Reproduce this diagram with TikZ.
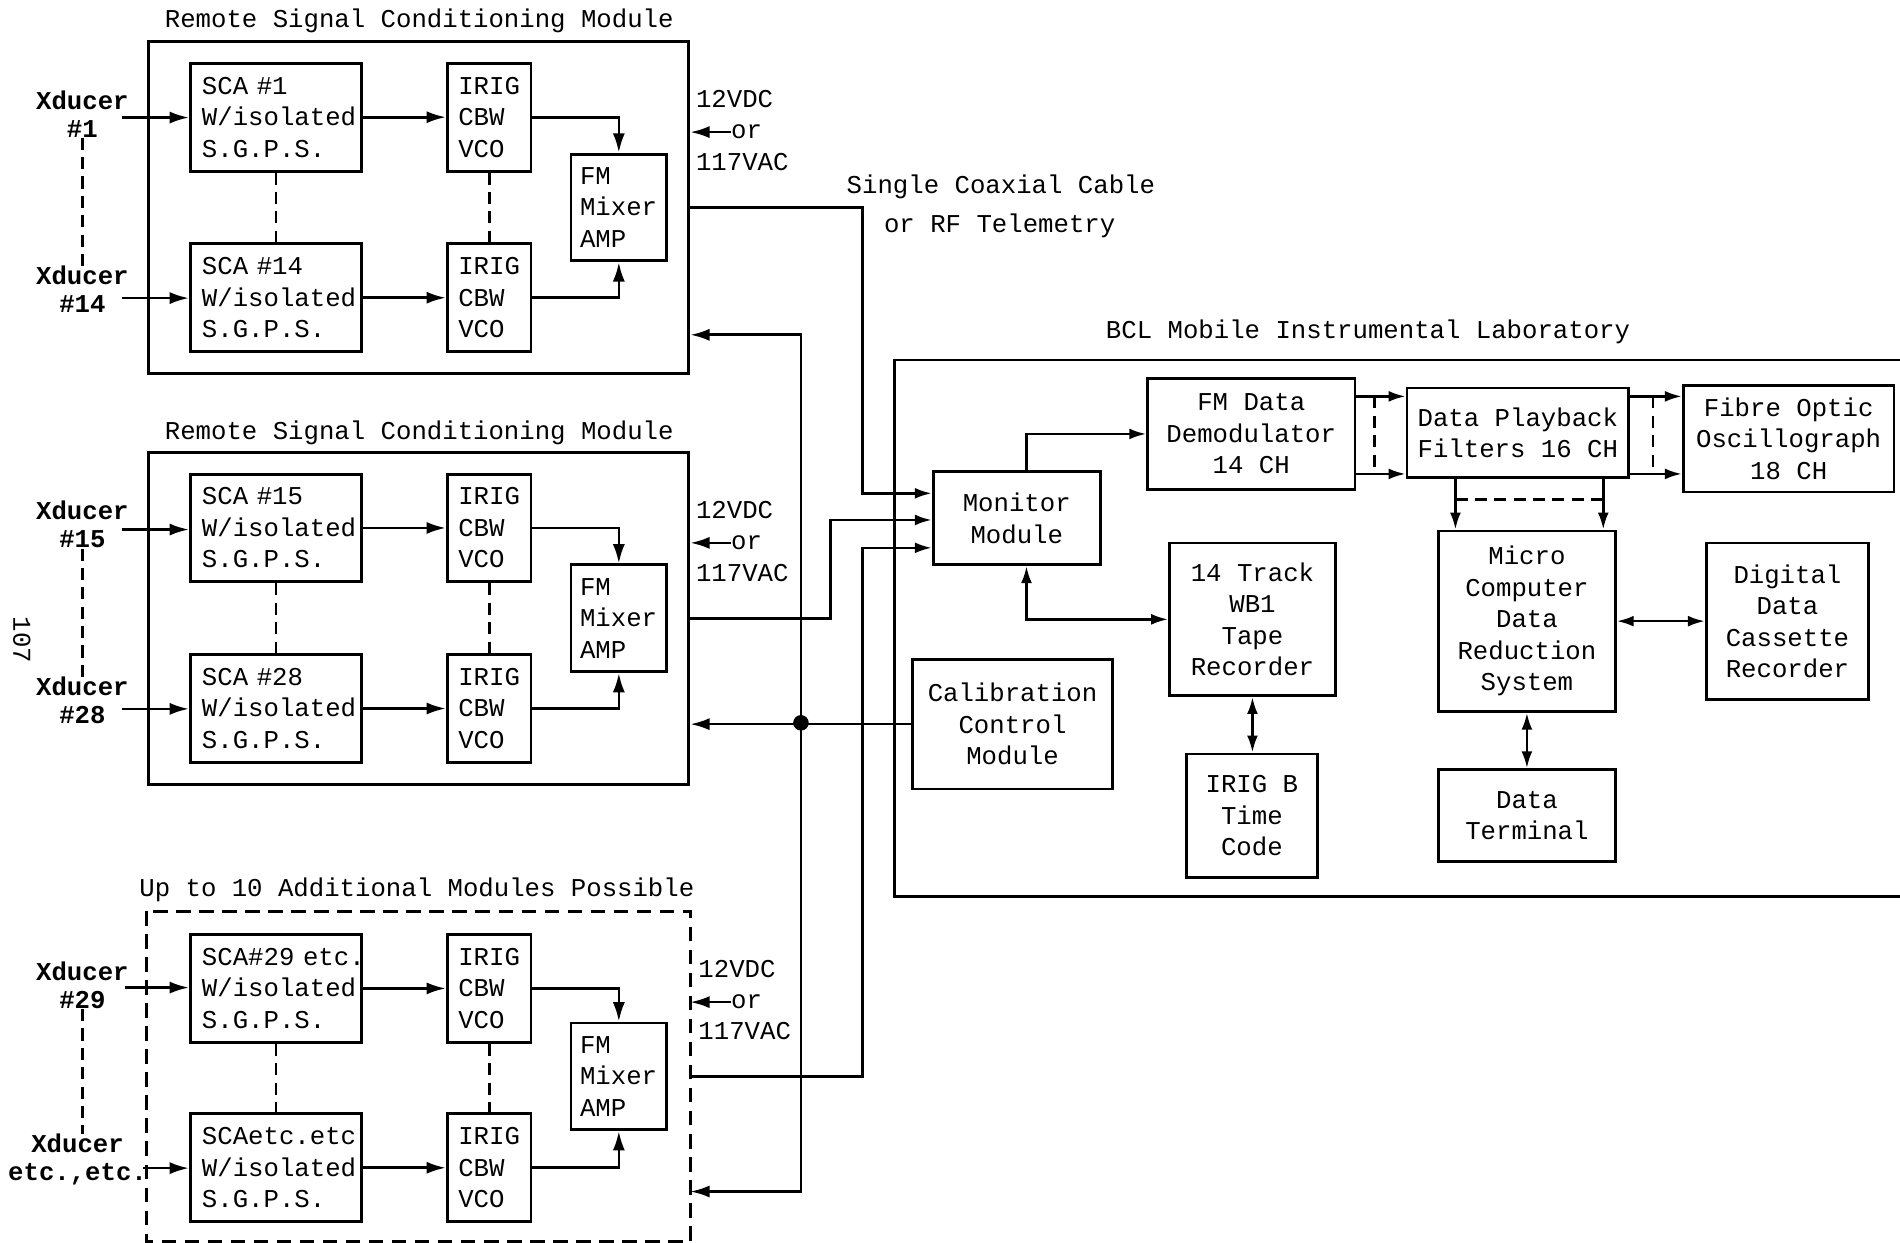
\documentclass[tikz,border=0pt]{standalone}
\usepackage{fontspec}
\setmainfont{Liberation Mono}
\usetikzlibrary{arrows.meta}
\begin{document}
\begin{tikzpicture}[x=0.5pt,y=-0.5pt,
  font=\fontsize{10.6pt}{13pt}\selectfont,
  modbox/.style={draw,line width=1.3pt,anchor=north west,inner sep=0pt,minimum width=223pt,minimum height=137pt},
  blk/.style={draw,line width=1.2pt,anchor=north west,inner ysep=0pt},
  sca/.style={blk,minimum width=70.5pt,minimum height=44.5pt,text width=61pt,inner xsep=4.5pt,align=left},
  irig/.style={blk,minimum width=34.5pt,minimum height=44.5pt,text width=25.5pt,inner xsep=4.5pt,align=left},
  fm/.style={blk,minimum width=39.5pt,minimum height=44pt,text width=32pt,inner xsep=3.5pt,align=left},
  lbox/.style={draw,line width=1.1pt,anchor=north west,inner sep=0pt,align=center},
  ttl/.style={inner sep=0pt},
  pw/.style={inner sep=0pt,anchor=west},
  xlab/.style={inner sep=0pt,align=center,font=\bfseries\fontsize{10.6pt}{11.5pt}\selectfont},
  arr/.style={line width=1.1pt,-{Latex[length=8pt,width=5pt]}},
  marr/.style={line width=1.1pt,-{Latex[length=7pt,width=4.5pt]}},
  darr/.style={line width=1.1pt,{Latex[length=7pt,width=4.5pt]}-{Latex[length=7pt,width=4.5pt]}},
  wire/.style={line width=1.1pt},
  dline/.style={line width=1.1pt,dash pattern=on 5pt off 3pt},
  mdash/.style={line width=1.3pt,dash pattern=on 6pt off 3.5pt},
  jdot/.style={circle,fill,draw,inner sep=0pt,minimum size=6pt}]
\path[fill=white] (0,0) rectangle (1568,1025);
\useasboundingbox (0,0) rectangle (1568,1025);

% ---------------- Module 1
\node[modbox] (m1) at (121,33) {};
\node[ttl] (m1t) at (346,17) {Remote Signal Conditioning Module};
\node[sca] (s1) at (156,51) {SCA \#1\\W/isolated\\S.G.P.S.};
\node[irig] (i1) at (368,51) {IRIG\\CBW\\VCO};
\node[sca] (s14) at (156,200) {SCA \#14\\W/isolated\\S.G.P.S.};
\node[irig] (i14) at (368,200) {IRIG\\CBW\\VCO};
\node[fm] (f1) at (470,126) {FM\\Mixer\\AMP};
\node[xlab] (x1) at (68,94) {Xducer\\\#1};
\node[xlab] (x14) at (68,239) {Xducer\\\#14};
\coordinate (xi1) at (101,97);
\coordinate (xi14) at (101,246);
\node[pw] (p1a) at (574,82) {12VDC};
\node[pw] (p1b) at (603,109) {or};
\node[pw] (p1c) at (574,134) {117VAC};
\draw[arr] (xi1) -- (xi1 -| s1.west);
\draw[arr] (xi14) -- (xi14 -| s14.west);
\draw[arr] (s1.east) -- (i1.west);
\draw[arr] (s14.east) -- (i14.west);
\draw[arr] (i1.east) -| (f1.north);
\draw[arr] (i14.east) -| (f1.south);
\draw[dline] (s1.south) -- (s14.north);
\draw[dline] (i1.south) -- (i14.north);
\draw[dline] (x1.south) -- (x14.north);
\draw[arr] (p1b.west) -- (p1b.west -| m1.east);

% ---------------- Module 2
\node[modbox] (m2) at (121,372) {};
\node[ttl] (m2t) at (346,357) {Remote Signal Conditioning Module};
\node[sca] (s15) at (156,390) {SCA \#15\\W/isolated\\S.G.P.S.};
\node[irig] (i15) at (368,390) {IRIG\\CBW\\VCO};
\node[sca] (s28) at (156,539) {SCA \#28\\W/isolated\\S.G.P.S.};
\node[irig] (i28) at (368,539) {IRIG\\CBW\\VCO};
\node[fm] (f2) at (470,465) {FM\\Mixer\\AMP};
\node[xlab] (x15) at (68,433) {Xducer\\\#15};
\node[xlab] (x28) at (68,578) {Xducer\\\#28};
\coordinate (xi15) at (101,437);
\coordinate (xi28) at (101,585);
\node[pw] (p2a) at (574,421) {12VDC};
\node[pw] (p2b) at (603,448) {or};
\node[pw] (p2c) at (574,473) {117VAC};
\draw[arr] (xi15) -- (xi15 -| s15.west);
\draw[arr] (xi28) -- (xi28 -| s28.west);
\draw[arr] (s15.east) -- (i15.west);
\draw[arr] (s28.east) -- (i28.west);
\draw[arr] (i15.east) -| (f2.north);
\draw[arr] (i28.east) -| (f2.south);
\draw[dline] (s15.south) -- (s28.north);
\draw[dline] (i15.south) -- (i28.north);
\draw[dline] (x15.south) -- (x28.north);
\draw[arr] (p2b.west) -- (p2b.west -| m2.east);

% ---------------- Module 3 (additional)
\node[modbox,draw=none,minimum height=135pt] (m3) at (121,752) {};
\draw[mdash] (m3.north west) rectangle (m3.south east);
\node[ttl] (m3t) at (344,734) {Up to 10 Additional Modules Possible};
\node[sca] (s29) at (156,770) {\mbox{SCA\#29 etc.}\\W/isolated\\S.G.P.S.};
\node[irig] (i29) at (368,770) {IRIG\\CBW\\VCO};
\node[sca] (se) at (156,918) {SCAetc.etc\\W/isolated\\S.G.P.S.};
\node[irig] (ie) at (368,918) {IRIG\\CBW\\VCO};
\node[fm] (f3) at (470,843) {FM\\Mixer\\AMP};
\node[xlab] (x29) at (68,813) {Xducer\\\#29};
\node[xlab] (xe) at (64,957) {Xducer\\etc.,etc.};
\coordinate (xi29) at (103,815);
\coordinate (xie) at (118,964);
\node[pw] (p3a) at (576,800) {12VDC};
\node[pw] (p3b) at (603,827) {or};
\node[pw] (p3c) at (576,851) {117VAC};
\draw[arr] (xi29) -- (xi29 -| s29.west);
\draw[arr] (xie) -- (xie -| se.west);
\draw[arr] (s29.east) -- (i29.west);
\draw[arr] (se.east) -- (ie.west);
\draw[arr] (i29.east) -| (f3.north);
\draw[arr] (ie.east) -| (f3.south);
\draw[dline] (s29.south) -- (se.north);
\draw[dline] (i29.south) -- (ie.north);
\draw[dline] (x29.south) -- (x29.south |- xe.north);
\draw[arr] (p3b.west) -- (p3b.west -| m3.east);

% ---------------- Link labels
\node[ttl] (coax1) at (826,154) {Single Coaxial Cable};
\node[ttl] (coax2) at (825,186) {or RF Telemetry};

% ---------------- BCL laboratory
\draw[wire] (1570,297) -- (738,297) -- (738,740) -- (1570,740);
\node[ttl] (labt) at (1129,274) {BCL Mobile Instrumental Laboratory};
\node[lbox,minimum width=69pt,minimum height=38.5pt] (mon) at (769,388) {Monitor\\Module};
\node[lbox,minimum width=85.5pt,minimum height=46pt] (dem) at (946,311) {FM Data\\Demodulator\\14 CH};
\node[lbox,minimum width=91.5pt,minimum height=37pt] (play) at (1160,319) {Data Playback\\Filters 16 CH};
\node[lbox,minimum width=87pt,minimum height=44pt] (fib) at (1388,317) {Fibre Optic\\Oscillograph\\18 CH};
\node[lbox,minimum width=73pt,minimum height=74.5pt] (mic) at (1186,437) {Micro\\Computer\\Data\\Reduction\\System};
\node[lbox,minimum width=67pt,minimum height=64.5pt] (dig) at (1407,447) {Digital\\Data\\Cassette\\Recorder};
\node[lbox,minimum width=73pt,minimum height=38pt] (term) at (1186,634) {Data\\Terminal};
\node[lbox,minimum width=68.5pt,minimum height=63pt] (tape) at (964,447) {14 Track\\WB1\\Tape\\Recorder};
\node[lbox,minimum width=54pt,minimum height=51pt] (irb) at (978,621) {IRIG B\\Time\\Code};
\node[lbox,minimum width=82.5pt,minimum height=53.5pt] (cal) at (752,543) {Calibration\\Control\\Module};

% module outputs to monitor
\draw[marr] (f1.east -| m1.east) -- ++(142,0) |- ([yshift=10.25pt]mon.west);
\draw[marr] (f2.east -| m2.east) -- ++(116,0) |- ([yshift=-0.75pt]mon.west);
\draw[marr] (f3.east -| m3.east) -- ++(142,0) |- ([yshift=-12.25pt]mon.west);

% calibration bus
\node[jdot] (jn) at (661,596.5) {};
\draw[arr] (cal.west) -- (cal.west -| m2.east);
\draw[arr] (jn.center) |- ([yshift=-52.5pt]m1.east);
\draw[arr] (jn.center) |- ([yshift=-47.5pt]m3.east);

% lab connectors
\draw[marr] ([xshift=4pt]mon.north) |- (dem.west);
\draw[darr] ([xshift=4pt]mon.south) |- (tape.west);
\draw[darr] (tape.south) -- (tape.south |- irb.north);
\draw[marr] ([yshift=15.5pt]dem.east) -- ([yshift=15.5pt]dem.east -| play.west);
\draw[marr] ([yshift=-16.5pt]dem.east) -- ([yshift=-16.5pt]dem.east -| play.west);
\draw[dline] ([xshift=7.5pt,yshift=15.5pt]dem.east) -- ([xshift=7.5pt,yshift=-16.5pt]dem.east);
\draw[marr] ([yshift=15pt]play.east) -- ([yshift=15pt]play.east -| fib.west);
\draw[marr] ([yshift=-17pt]play.east) -- ([yshift=-17pt]play.east -| fib.west);
\draw[dline] ([xshift=9.5pt,yshift=15pt]play.east) -- ([xshift=9.5pt,yshift=-17pt]play.east);
\draw[marr] ([xshift=-25.75pt]play.south) -- ([xshift=-25.75pt]play.south |- mic.north);
\draw[marr] ([xshift=35.25pt]play.south) -- ([xshift=35.25pt]play.south |- mic.north);
\draw[dline] ([xshift=-25.75pt,yshift=-8.5pt]play.south) -- ([xshift=35.25pt,yshift=-8.5pt]play.south);
\draw[darr] (mic.east) -- (mic.east -| dig.west);
\draw[darr] (mic.south) -- (mic.south |- term.north);

% page number
\node[ttl,rotate=-90] (pg) at (18,528) {107};
\end{tikzpicture}
\end{document}
